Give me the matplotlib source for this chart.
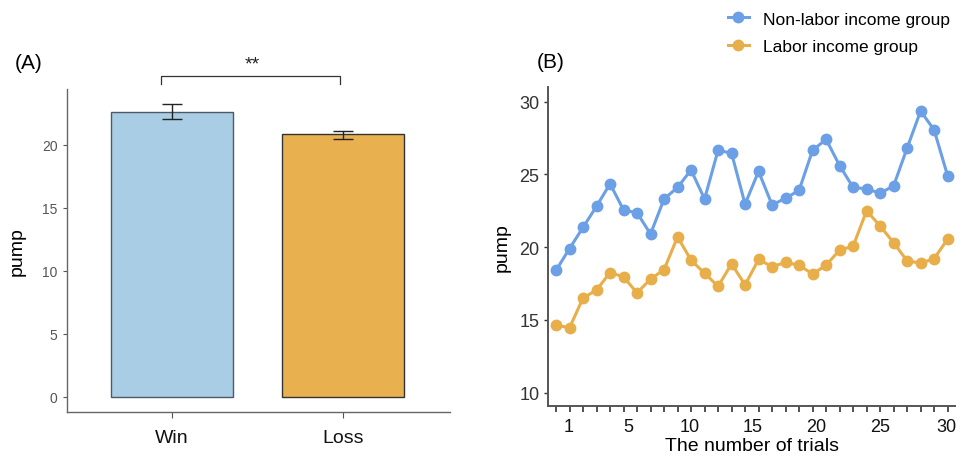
import matplotlib
matplotlib.use("Agg")
import matplotlib.pyplot as plt
from matplotlib.lines import Line2D
import numpy as np

plt.rcParams['font.family'] = ['Liberation Sans', 'DejaVu Sans']

# Panel A data
conditions = ["Win", "Loss"]
bar_means = [22.6, 20.8]
bar_lower = [22.0, 20.45]
bar_upper = [23.2, 21.08]

# Panel B data
trials = list(range(1, 31))
non_labor = [18.4, 19.9, 21.35, 22.8, 24.35, 22.55, 22.35, 20.9, 23.3, 24.1,
             25.3, 23.3, 26.65, 26.45, 22.95, 25.2, 22.9, 23.35, 23.9, 26.65,
             27.4, 25.6, 24.1, 24.0, 23.7, 24.2, 26.8, 29.35, 28.05, 24.9]
labor = [14.65, 14.45, 16.5, 17.05, 18.25, 17.95, 16.85, 17.8, 18.45, 20.7,
         19.1, 18.2, 17.3, 18.85, 17.4, 19.15, 18.65, 18.95, 18.75, 18.15,
         18.75, 19.8, 20.05, 22.5, 21.45, 20.3, 19.05, 18.9, 19.2, 20.55]
xtick_labels = ["1", "5", "10", "15", "20", "25", "30"]
xtick_pos = [1.9, 6.35, 10.9, 15.55, 20.25, 24.98, 29.93]

blue = "#6b9fe6"
orange = "#e8ae4a"

fig = plt.figure(figsize=(9.64, 4.64), dpi=100)

# ---- Panel A ----
ax1 = fig.add_axes([0.0692, 0.11, 0.3976, 0.696])
x = np.array([1, 2])
ax1.bar(x, bar_means, width=0.71, color=["#a8cde4", "#e8b04f"],
        edgecolor=["#4d5a66", "#333333"], linewidth=1.0, zorder=2)
err = [np.array(bar_means) - np.array(bar_lower), np.array(bar_upper) - np.array(bar_means)]
ax1.errorbar(x, bar_means, yerr=err, fmt="none", ecolor="#222222",
             elinewidth=1.0, capsize=7, capthick=1.0, zorder=3)
ax1.set_xlim(0.39, 2.62)
ax1.set_ylim(-1.2, 24.4)
ax1.set_yticks([0, 5, 10, 15, 20])
ax1.set_xticks(x)
ax1.set_xticklabels(conditions, fontsize=14, color="#111111")
ax1.tick_params(axis="y", labelsize=10, colors="#555555", length=3, width=0.8)
ax1.tick_params(axis="x", length=4, width=0.8, color="#555555", pad=8)
for s in ["top", "right"]:
    ax1.spines[s].set_visible(False)
for s in ["left", "bottom"]:
    ax1.spines[s].set_color("#666666")
    ax1.spines[s].set_linewidth(1.0)
ax1.set_ylabel("pump", fontsize=14, labelpad=12)

# significance bracket
ax1.plot([0.94, 0.94, 1.98, 1.98], [24.8, 25.4, 25.4, 24.8], color="#333333",
         linewidth=0.9, clip_on=False)
ax1.text(1.47, 25.7, "**", ha="center", va="bottom", fontsize=14, color="#222222")
fig.text(0.015, 0.864, "(A)", fontsize=15, ha="left", va="center")

# ---- Panel B ----
ax2 = fig.add_axes([0.5688, 0.1235, 0.4219, 0.6869])
ax2.plot(trials, non_labor, color=blue, linewidth=2.2, marker="o", markersize=7.5,
         label="Non-labor income group")
ax2.plot(trials, labor, color=orange, linewidth=2.2, marker="o", markersize=7.5,
         label="Labor income group")
ax2.set_xlim(0.43, 30.55)
ax2.set_ylim(9.1, 31.0)
ax2.set_yticks([10, 15, 20, 25, 30])
ax2.set_xticks(trials, minor=True)
ax2.set_xticks(xtick_pos)
ax2.set_xticklabels(xtick_labels)
ax2.tick_params(axis="x", which="major", length=0, labelsize=13, colors="#111111", pad=9)
ax2.tick_params(axis="x", which="minor", length=4, width=1.2, color="#333333")
ax2.tick_params(axis="y", labelsize=13, colors="#333333", length=3, width=1.0)
for s in ["top", "right"]:
    ax2.spines[s].set_visible(False)
for s in ["left", "bottom"]:
    ax2.spines[s].set_color("#555555")
    ax2.spines[s].set_linewidth(1.4)
ax2.set_xlabel("The number of trials", fontsize=14, labelpad=1)
ax2.set_ylabel("pump", fontsize=14, labelpad=6)
fig.text(0.557, 0.866, "(B)", fontsize=15, ha="left", va="center")

handles = [Line2D([0], [0], color=blue, linewidth=2.2, marker="o", markersize=7.5),
           Line2D([0], [0], color=orange, linewidth=2.2, marker="o", markersize=7.5)]
fig.legend(handles, ["Non-labor income group", "Labor income group"],
           loc="upper left", bbox_to_anchor=(0.739, 1.007), frameon=False,
           fontsize=12.5, handlelength=1.2, labelspacing=0.72, handletextpad=0.8)

fig.savefig("out.png", dpi=100)
